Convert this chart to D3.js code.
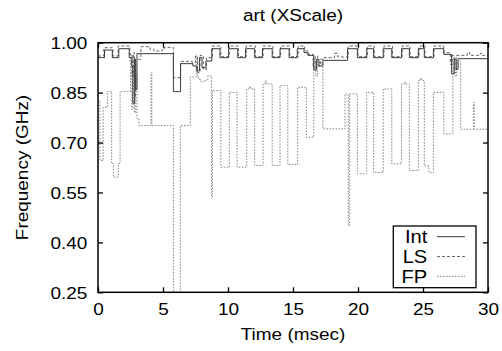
<!DOCTYPE html>
<html>
<head>
<meta charset="utf-8">
<script src="https://cdn.jsdelivr.net/npm/d3@7"></script>
<style>
  html, body { margin: 0; padding: 0; background: #fff; }
  svg { display: block; font-family: "Liberation Sans", Arial, Helvetica, sans-serif; }
</style>
</head>
<body>
<svg id="chart" width="502" height="351"></svg>
<script>
// Frequency traces for "art" on XScale; each entry is [time (msec), frequency (GHz)],
// held until the next entry (step-after).
const intSteps = [
  [0, 0.955], [0.5, 0.978], [1.1, 0.955], [1.6, 0.982], [2.4, 0.955], [2.6, 0.93],
  [2.68, 0.818], [2.82, 0.95], [2.9, 0.86], [3.0, 0.967],
  [5.8, 0.853], [6.35, 0.937], [7.3, 0.93], [7.6, 0.915], [7.8, 0.955],
  [8.0, 0.925], [8.3, 0.945], [8.75, 0.982],
  [9.38, 0.955], [10.05, 0.982], [10.75, 0.955], [11.35, 0.982], [12.05, 0.955],
  [12.65, 0.982], [13.4, 0.955], [14.0, 0.982], [14.7, 0.955], [15.33, 0.982],
  [15.85, 0.97], [16.15, 0.962], [16.6, 0.918], [16.8, 0.95], [17.0, 0.93],
  [17.3, 0.947], [19.2, 0.982], [19.95, 0.955],
  [20.67, 0.982], [21.2, 0.955], [21.94, 0.982], [22.6, 0.955], [23.35, 0.982],
  [23.95, 0.955], [24.64, 0.982], [25.1, 0.955], [25.8, 0.982], [26.6, 0.965],
  [27.2, 0.907], [27.4, 0.95], [27.55, 0.92], [27.7, 0.952],
  [30, 0.952]
];

const lsSteps = [
  [0, 0.96], [0.45, 0.985], [1.15, 0.96], [1.55, 0.99], [2.45, 0.965], [2.62, 0.9],
  [2.72, 0.97], [2.8, 0.84], [2.88, 0.95], [3.3, 0.988],
  [4.0, 0.98], [4.3, 0.975], [4.9, 0.978], [5.1, 0.986], [5.8, 0.895], [6.35, 0.944],
  [7.25, 0.94], [7.5, 0.96], [7.65, 0.91], [7.85, 0.962], [8.1, 0.92], [8.35, 0.955],
  [8.8, 0.99], [9.45, 0.958],
  [10.1, 0.99], [10.8, 0.958], [11.4, 0.99], [12.1, 0.958], [12.7, 0.99], [13.45, 0.958],
  [14.05, 0.99], [14.75, 0.958], [15.4, 0.99], [15.9, 0.975], [16.2, 0.965], [16.55, 0.925],
  [16.7, 0.96], [16.9, 0.93], [17.1, 0.95], [17.3, 0.955],
  [18.2, 0.968], [18.45, 0.957], [19.25, 0.99], [20.0, 0.958], [20.72, 0.99],
  [21.25, 0.958], [22.0, 0.99], [22.65, 0.958], [23.4, 0.99], [24.0, 0.958], [24.7, 0.99],
  [25.15, 0.958], [25.85, 0.99], [26.6, 0.97], [27.1, 0.935], [27.25, 0.962],
  [27.4, 0.91], [27.55, 0.962], [28.4, 0.97],
  [28.6, 0.962], [29.4, 0.968], [29.55, 0.962], [30, 0.962]
];

const fpSteps = [
  [0, 0.826], [0.15, 0.646], [0.4, 0.806], [0.72, 0.854], [1.05, 0.637], [1.18, 0.596],
  [1.56, 0.637], [1.7, 0.854], [2.5, 0.965], [2.6, 0.8], [2.7, 0.96], [2.8, 0.79],
  [2.9, 0.906], [3.0, 0.772], [3.15, 0.751], [4.08, 0.911],
  [4.14, 0.751], [5.8, 0.2], [6.33, 0.751], [7.1, 0.897], [7.55, 0.96], [7.65, 0.9],
  [7.75, 0.89], [7.9, 0.884], [8.3, 0.888], [8.45, 0.9], [8.72, 0.536], [8.8, 0.856],
  [9.45, 0.626], [10.1, 0.851], [10.7, 0.626], [11.44, 0.861], [11.65, 0.868],
  [11.75, 0.861], [12.05, 0.631], [12.7, 0.876], [12.85, 0.885], [12.95, 0.876],
  [13.4, 0.631], [14.0, 0.871], [14.6, 0.634], [15.36, 0.866], [16.02, 0.716],
  [16.6, 0.95], [16.75, 0.9], [16.9, 0.94], [17.3, 0.741],
  [19.0, 0.846], [19.25, 0.451], [19.36, 0.846], [19.95, 0.606], [20.67, 0.851],
  [21.2, 0.61], [21.94, 0.861], [22.6, 0.636], [23.35, 0.876], [23.55, 0.882],
  [23.65, 0.876], [23.95, 0.616], [24.64, 0.886], [24.8, 0.893], [24.9, 0.886],
  [25.1, 0.63], [25.45, 0.61], [25.8, 0.851], [26.6, 0.726], [27.3, 0.95],
  [27.45, 0.9], [27.6, 0.945], [27.9, 0.74], [28.88, 0.82], [28.94, 0.74], [30, 0.74]
];

const seriesNames = ["Int", "LS", "FP"];
const xTicks = [0, 5, 10, 15, 20, 25, 30];
const yTicks = [0.25, 0.40, 0.55, 0.70, 0.85, 1.00];
const titleText = "art (XScale)";
const xTitle = "Time (msec)";
const yTitle = "Frequency (GHz)";

// ---- layout ----
const W = 502, H = 351;
const plot = { left: 98, right: 488, top: 42.7, bottom: 292.3 };
const stretch = 1.15;   // wide lettering
const fontSize = 16.5;

const svg = d3.select("#chart");

const x = d3.scaleLinear().domain([0, 30]).range([plot.left, plot.right]);
const y = d3.scaleLinear().domain([0.25, 1.0]).range([plot.bottom, plot.top]);

svg.append("defs").append("clipPath").attr("id", "plotClip")
  .append("rect")
  .attr("x", plot.left).attr("y", plot.top)
  .attr("width", plot.right - plot.left).attr("height", plot.bottom - plot.top);

// ---- traces ----
const line = d3.line()
  .x(d => x(d[0]))
  .y(d => y(d[1]))
  .curve(d3.curveStepAfter);

const styles = {
  Int: { stroke: "#3a3a3a", dash: null, width: 1 },
  LS:  { stroke: "#666", dash: "3,2", width: 1 },
  FP:  { stroke: "#808080", dash: "1.5,1.5", width: 1 }
};
const dataByName = { Int: intSteps, LS: lsSteps, FP: fpSteps };

const traces = svg.append("g").attr("clip-path", "url(#plotClip)");
["FP", "LS", "Int"].forEach(name => {
  const s = styles[name];
  traces.append("path")
    .datum(dataByName[name])
    .attr("fill", "none")
    .attr("stroke", s.stroke)
    .attr("stroke-width", s.width)
    .attr("stroke-dasharray", s.dash)
    .attr("d", line);
});

// ---- axes (inward ticks on all four sides) ----
function styleAxis(g) {
  g.select(".domain").remove();
  g.selectAll(".tick line").attr("stroke", "#000").attr("stroke-width", 1.3);
  g.selectAll("text").attr("font-size", fontSize).attr("fill", "#000")
    .attr("font-family", "Liberation Sans, Arial, sans-serif");
}

const yAxis = svg.append("g")
  .attr("transform", `translate(${plot.left},0)`)
  .call(d3.axisLeft(y).tickValues(yTicks).tickSize(-5).tickPadding(0).tickFormat(d3.format(".2f")))
  .call(styleAxis);
yAxis.selectAll(".tick text")
  .attr("x", null).attr("dy", "0.35em")
  .attr("transform", `translate(-10.7,0) scale(${stretch},1)`);

const xAxis = svg.append("g")
  .attr("transform", `translate(0,${plot.bottom})`)
  .call(d3.axisBottom(x).tickValues(xTicks).tickSize(-5).tickPadding(0).tickFormat(d3.format("d")))
  .call(styleAxis);
xAxis.selectAll(".tick text")
  .attr("y", null).attr("dy", null)
  .attr("transform", `translate(0,23) scale(${stretch},1)`);

svg.append("g")
  .attr("transform", `translate(${plot.right},0)`)
  .call(d3.axisRight(y).tickValues(yTicks).tickSize(-5).tickFormat(""))
  .call(styleAxis);

svg.append("g")
  .attr("transform", `translate(0,${plot.top})`)
  .call(d3.axisTop(x).tickValues(xTicks).tickSize(-5).tickFormat(""))
  .call(styleAxis);

// frame
svg.append("rect")
  .attr("x", plot.left).attr("y", plot.top)
  .attr("width", plot.right - plot.left).attr("height", plot.bottom - plot.top)
  .attr("fill", "none").attr("stroke", "#000").attr("stroke-width", 1.5);

// ---- titles ----
function stretchedText(px, py, str, anchor, rotate) {
  return svg.append("text")
    .attr("transform", `translate(${px},${py})${rotate ? " rotate(-90)" : ""} scale(${stretch},1)`)
    .attr("text-anchor", anchor)
    .attr("font-size", fontSize)
    .attr("fill", "#000")
    .text(str);
}
stretchedText((plot.left + plot.right) / 2, 21, titleText, "middle");
stretchedText((plot.left + plot.right) / 2, 340, xTitle, "middle");
stretchedText(27.5, (plot.top + plot.bottom) / 2, yTitle, "middle", true);

// ---- legend ----
const legend = svg.append("g");
legend.append("rect")
  .attr("x", 393.3).attr("y", 226)
  .attr("width", 82.7).attr("height", 61.7)
  .attr("fill", "#fff").attr("stroke", "#000").attr("stroke-width", 1.3);

const rowY = d3.scalePoint().domain(seriesNames).range([236.7, 276.4]);
seriesNames.forEach(name => {
  const s = styles[name];
  const cy = rowY(name);
  legend.append("text")
    .attr("transform", `translate(427.3,${cy}) scale(${stretch},1)`)
    .attr("dy", "0.35em")
    .attr("text-anchor", "end")
    .attr("font-size", fontSize + 1)
    .attr("fill", "#000")
    .text(name);
  legend.append("line")
    .attr("x1", 437).attr("x2", 465)
    .attr("y1", cy).attr("y2", cy)
    .attr("stroke", s.stroke)
    .attr("stroke-width", s.width)
    .attr("stroke-dasharray", s.dash);
});
</script>
</body>
</html>
